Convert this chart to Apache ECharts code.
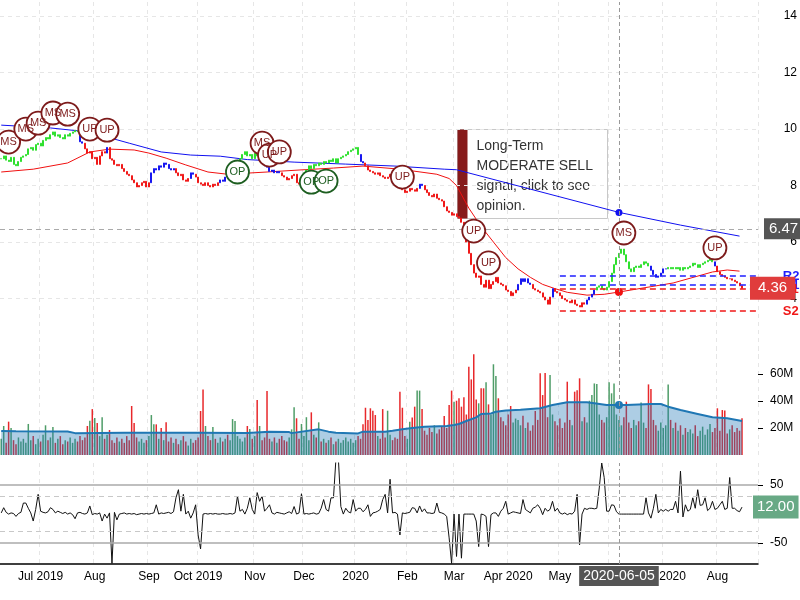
<!DOCTYPE html>
<html><head><meta charset="utf-8">
<script src="https://cdn.jsdelivr.net/npm/echarts@6/dist/echarts.min.js"></script>
<style>html,body{margin:0;padding:0;background:#fff}#c{width:800px;height:600px}</style>
</head><body><div id="c"></div>
<script>
// ---------- categories (trading days) ----------
const HOLIDAYS = ['2019-07-04','2019-09-02','2019-11-28','2019-12-25','2020-01-01','2020-01-20','2020-02-17','2020-04-10','2020-05-25','2020-07-03'];
const FIRST_DAY = '2019-06-07';
const LAST_AXIS_DAY = '2020-08-25';
const tradeDates = (function(){
  const hol = new Set(HOLIDAYS), out = [];
  let t = Date.parse(FIRST_DAY + 'T00:00:00Z'); const end = Date.parse(LAST_AXIS_DAY + 'T00:00:00Z');
  while (t <= end) { const d = new Date(t), w = d.getUTCDay(), s = d.toISOString().slice(0,10);
    if (w !== 0 && w !== 6 && !hol.has(s)) out.push(s); t += 86400000; }
  return out;
})();

// ---------- x tick labels ----------
const monthTicks = [['2019-07-01','Jul 2019'],['2019-08-01','Aug'],['2019-09-03','Sep'],['2019-10-01','Oct 2019'],['2019-11-01','Nov'],['2019-12-02','Dec'],['2020-01-02','2020'],['2020-02-03','Feb'],['2020-03-02','Mar'],['2020-04-01','Apr 2020'],['2020-05-01','May'],['2020-06-01','Jun'],['2020-07-01','Jul 2020'],['2020-08-03','Aug']];
const cursorDate = '2020-06-05';

// ---------- price (daily close) ----------
const closes = [
8.95,9.05,8.9,8.85,9.0,8.75,8.7,8.85,9.0,9.05,
9.1,9.3,9.35,9.25,9.45,9.5,9.4,9.6,9.7,9.65,
9.8,9.9,9.75,9.8,9.7,9.65,9.8,9.75,9.85,9.9,
9.95,9.9,9.55,9.5,9.3,9.15,9.2,8.95,9.0,8.75,
9.05,9.2,9.15,9.35,8.95,8.9,8.75,8.7,8.75,8.6,
8.5,8.4,8.35,8.2,8.1,7.95,8.0,8.1,8.15,7.95,
8.1,8.45,8.6,8.55,8.7,8.65,8.8,8.75,8.6,8.55,
8.6,8.45,8.35,8.4,8.2,8.15,8.25,8.45,8.4,8.3,
8.1,8.05,8.0,8.1,8.0,7.95,8.05,8.0,8.1,8.2,
8.15,8.3,8.25,8.35,8.4,8.55,8.75,8.95,9.1,9.2,
9.05,9.1,8.95,9.15,9.05,9.1,8.95,8.7,8.65,8.5,
8.55,8.45,8.5,8.45,8.35,8.3,8.2,8.25,8.35,8.4,
8.1,8.05,8.2,8.45,8.55,8.7,8.6,8.75,8.7,8.8,
8.75,8.85,8.8,8.9,8.85,8.95,8.8,8.95,9.0,9.05,
9.1,9.2,9.25,9.3,9.35,9.1,8.85,8.8,8.7,8.55,
8.5,8.45,8.4,8.45,8.35,8.3,8.25,8.3,8.4,8.3,
8.15,8.0,7.95,7.85,7.75,7.8,7.9,7.85,7.8,7.9,
8.05,8.0,7.85,7.75,7.65,7.6,7.7,7.55,7.5,7.45,
7.25,7.1,7.05,6.95,7.0,6.9,6.85,6.7,6.35,6.0,
5.6,5.2,4.9,4.75,4.8,4.5,4.4,4.65,4.35,4.5,
4.6,4.75,4.55,4.5,4.45,4.3,4.25,4.1,4.2,4.3,
4.5,4.7,4.6,4.7,4.55,4.5,4.35,4.3,4.25,4.2,
4.05,3.95,3.8,4.05,4.35,4.25,4.2,4.1,4.0,3.95,
3.9,3.85,3.95,3.8,3.75,3.7,3.85,3.8,3.95,4.05,
4.15,4.3,4.4,4.45,4.35,4.3,4.4,4.6,4.9,5.2,
5.45,5.6,5.75,5.55,5.3,5.05,4.95,5.1,5.15,5.1,
5.2,5.3,5.25,5.15,5.0,4.85,4.75,4.8,4.9,5.05,
5.05,5.1,5.05,5.1,5.05,5.1,5.0,5.1,5.05,5.1,
5.15,5.25,5.2,5.1,5.2,5.25,5.3,5.35,5.4,5.3,
5.15,4.95,4.85,4.8,4.75,4.7,4.7,4.65,4.6,4.55,
4.45,4.36];
// trend colour of each bar, as runs: G = up-trend, R = down-trend, B = neutral
const trendRuns = [['G',32],['B',2],['R',9],['B',1],['R',17],['B',10],['R',6],['B',2],['R',10],['B',4],['G',14],['B',7],['R',9],['G',23],['B',2],['R',22],['B',2],['R',38],['B',6],['R',8],['B',1],['R',13],['B',4],['G',22],['B',7],['G',19],['B',1],['R',11]];

// moving averages, as [trading-day index, value]
const maLong = [[0,10.14],[20,10.04],[32,9.93],[40,9.79],[52,9.5],[65,9.19],[77,9.08],[89,9.04],[100,8.92],[119,8.83],[140,8.76],[160,8.69],[180,8.58],[185,8.56],[251,7.05],[276,6.6],[300,6.21]];
const maShort = [[0,8.48],[13,8.58],[27,8.8],[36,9.19],[44,9.29],[54,9.26],[60,9.15],[67,8.97],[75,8.73],[84,8.48],[92,8.4],[108,8.48],[121,8.55],[135,8.62],[147,8.69],[162,8.58],[177,8.4],[182,8.25],[185,8.0],[190,7.2],[195,6.55],[200,6.0],[205,5.45],[210,5.05],[215,4.75],[220,4.5],[225,4.35],[230,4.22],[238,4.12],[245,4.15],[251,4.23],[273,4.55],[289,4.94],[295,5.01],[300,4.97]];

// signals: trading-day index, price level, label
const sigDay   = [3,10,15,21,27,36,43,96,106,109,113,126,132,163,192,198,253,290];
const sigPrice = [9.54,10.0,10.21,10.57,10.53,10.0,9.96,8.48,9.5,9.08,9.19,8.12,8.16,8.3,6.39,5.26,6.32,5.79];
const sigText  = ['MS','MS','MS','MS','MS','UP','UP','OP','MS','UP','UP','OP','OP','UP','UP','UP','MS','UP'];

// support / resistance levels
const levelNames  = ['R2','R1','S1','S2'];
const levelValues = [4.80,4.48,4.33,3.56];
const levelFrom = 227;
const cursorPrice = 6.47;
const lastPrice = 4.36;

// ---------- volume (millions) ----------
const volumes = [
12,21.5,9,24.7,20,11,8,13,10,12,
9,23,11,14,8,12,10,15,22,11,
13,20.7,9,12,14,8,11,10,13,9,
12,10,14,11,13,21.5,25.4,34,27.4,23.7,
14,28,12,15,18.5,11,9,13,10,12,
9,14,11,36.3,23.7,13,10,12,9,11,
14,29.6,22.7,22.7,12,20,11,24.2,10,13,
9,12,8,11,14,10,7,12,9,11,
13,32.6,48.6,21.5,14,11,20.7,12,9,13,
10,12,15,11,26.6,25.2,14,12,10,13,
21.5,19.3,12,14,40.7,21.5,11,13,47.4,12,
10,13,9,12,14,11,10,13,19,35.3,
27.2,12,23,14,28,11,31.6,15,13,24.2,
10,12,9,11,13,8,10,12,9,11,
13,10,12,9,11,14,12,22.7,35,26,
34.6,32.8,29.6,14,12,34,13,32.8,15,11,
13,12,46.9,35,14,12,24.7,27.7,35.8,47.7,
47.7,34,18,15,20,17,22,16,19,21,
28.9,20,37,47.7,39.5,40.2,42,35.8,42.7,30,
65.4,56,74.6,41.2,38.3,49.4,49.4,53.8,37.5,30,
67.2,58.5,42,28,25,22,30,36.3,24,27,
26,22,29,20,24,18,22,32.6,26,60.5,
44.4,60.7,28,59.3,30,25,22,27,20,24,
54.3,26,22,46.9,48,56.8,25,28,24,40.2,
44.4,53,52.6,30,26,24,28,53.8,45.7,53,
30,26,22,28,39.5,24,20,26,22,25,
38.8,24,20,52.3,48.9,26,22,18,24,20,
22,52.3,26,20,24,18,22,15,20,17,
19,16,22,14,18,21,15,19,23,17,
20,34.6,18,33.3,33,16,19,22,17,20,
18,27.2];
const volMA = [[0,17.8],[6,17.6],[27,17.4],[30,16.2],[50,16.4],[80,16.4],[100,16.3],[109,17.2],[117,17.0],[118,16.2],[129,19.0],[133,17.3],[136,16.5],[145,16.0],[147,17.3],[156,17.3],[159,18.0],[163,19.0],[167,20.0],[172,21.0],[181,21.5],[184,22.2],[186,23.0],[189,25.2],[193,27.9],[195,30.4],[199,30.8],[201,32.0],[205,33.0],[211,33.5],[219,34.6],[224,37.0],[230,39.0],[238,39.0],[241,38.3],[246,37.0],[251,37.0],[254,37.0],[264,37.8],[268,37.8],[271,35.8],[276,33.3],[283,30.4],[289,27.9],[295,27.2],[301,25.2]];

// ---------- oscillator ----------
const osc = [
2,11,3,0,2,1,-4,1,3,19,
19,10,2,-12,8,34,5,3,2,4,
11,8,2,5,3,1,3,0,2,-1,
-8,2,3,1,0,2,14,-1,1,0,
2,-12,0,-7,2,-85,3,-10,0,1,
2,0,1,0,1,-1,0,1,0,1,
0,1,2,16,0,2,1,2,3,1,
4,28,42,5,34,0,5,-7,2,16,
-36,-60,0,1,0,1,0,1,0,0,
1,0,0,1,0,2,31,5,8,0,
10,28,8,0,37,22,31,5,10,16,
2,0,3,2,1,0,2,4,1,13,
0,2,35,0,1,0,1,2,0,1,
10,25,8,5,28,28,95,95,13,0,
10,4,2,25,5,10,10,4,8,16,
-4,2,3,5,8,25,34,2,60,2,
3,0,-36,2,1,2,3,11,10,2,
14,4,9,2,2,1,2,19,3,2,
0,-4,-41,-85,0,-73,0,-76,0,0,
0,0,0,-12,-56,0,-1,-4,-56,-1,
2,2,-4,5,10,22,0,2,4,3,
2,1,25,8,5,2,10,12,16,10,
-1,10,5,8,22,5,10,2,0,2,
-1,1,0,5,34,-53,0,10,8,10,
10,9,10,45,88,63,5,5,16,15,
4,0,0,0,0,0,0,0,0,0,
0,0,28,2,-7,10,34,2,8,5,
8,5,8,8,22,2,74,-5,16,5,
8,28,10,42,15,16,28,6,10,22,
8,10,16,22,8,10,63,10,10,6,
4,12];
const oscBands = [50,-50];
const oscInner = [30,-30];

// ---------- build ----------
const COL = {G:'#2fe02f', R:'#f01818', B:'#1717f0'};
const trend = []; trendRuns.forEach(([c,n]) => { for (let k=0;k<n;k++) trend.push(c); });
const tickMap = Object.fromEntries(monthTicks);
const cursorIdx = tradeDates.indexOf(cursorDate);
const FONT = '"Liberation Sans", Arial, sans-serif';
const NOLINE = {color:'rgba(0,0,0,0)', width:0};

const priceData = closes.map((c,i) => {
  const o = i ? closes[i-1] : c, col = COL[trend[i]];
  return {value:[o,c,Math.min(o,c),Math.max(o,c)], itemStyle:{color:col,color0:col,borderColor:col,borderColor0:col,borderWidth:1}};
});
const volData = volumes.map((v,i) => ({value:v, itemStyle:{color: (i && closes[i] < closes[i-1]) ? '#e8282b' : '#4f9d68'}}));
const pairs = (arr, dotSize) => arr.map(([i,v]) => i === cursorIdx ? {value:[tradeDates[i],v], symbolSize:dotSize} : {value:[tradeDates[i],v], symbolSize:0});

function xAx(gi, show) {
  return {type:'category', gridIndex:gi, data:tradeDates, boundaryGap:true,
    axisLine:{show:show, onZero:false, lineStyle:{color:'#000', width:1.5}}, axisTick:{show:false},
    axisLabel:{show:show, interval:(i,v)=>tickMap[v]!==undefined, formatter:v=>tickMap[v]||'', color:'#000', fontSize:12, margin:7, fontFamily:FONT},
    splitLine:{show:true, interval:(i,v)=>tickMap[v]!==undefined, lineStyle:{color:'#e6e6e6', type:[4,4]}}};
}
const vLine = {xAxis: cursorDate, lineStyle:{color:'#999', type:[4,3], width:1}, label:{show:false}};

const option = {
  animation:false,
  textStyle:{fontFamily:FONT},
  grid:[
    {left:0, width:758, top:2, height:353},
    {left:0, width:758, top:347, height:108},
    {left:0, width:758, top:463, height:101}
  ],
  xAxis:[xAx(0,false), xAx(1,false), xAx(2,true)],
  yAxis:[
    {type:'value', gridIndex:0, position:'right', min:2, max:14.5, interval:2,
     axisLine:{show:false}, axisTick:{show:false},
     axisLabel:{showMinLabel:false, showMaxLabel:false, align:'right', margin:39, color:'#000', fontSize:12},
     splitLine:{show:true, lineStyle:{color:['rgba(0,0,0,0)','#e6e6e6','#e6e6e6','#e6e6e6','#e6e6e6','#e6e6e6','#e6e6e6'], type:[4,4]}}},
    {type:'value', gridIndex:1, position:'right', min:0, max:80,
     axisLine:{show:false}, axisTick:{show:true, length:5, customValues:[20,40,60], lineStyle:{color:'#000'}},
     axisLabel:{customValues:[20,40,60], formatter:v=>v+'M', margin:12, color:'#000', fontSize:12},
     splitLine:{show:false}},
    {type:'value', gridIndex:2, position:'right', min:-86, max:88,
     axisLine:{show:false}, axisTick:{show:true, length:5, customValues:oscBands, lineStyle:{color:'#000'}},
     axisLabel:{customValues:oscBands, margin:12, color:'#000', fontSize:12},
     splitLine:{show:false}}
  ],
  series:[
    {type:'line', name:'maLong', xAxisIndex:0, yAxisIndex:0, data:pairs(maLong,7), symbol:'circle', showAllSymbol:true,
     lineStyle:{color:'#1010f0', width:1}, itemStyle:{color:'#1010f0'}, z:2},
    {type:'line', name:'maShort', xAxisIndex:0, yAxisIndex:0, data:pairs(maShort,8), symbol:'circle', showAllSymbol:true,
     lineStyle:{color:'#f01010', width:1}, itemStyle:{color:'#f01010'}, z:2},
    {type:'candlestick', name:'price', xAxisIndex:0, yAxisIndex:0, data:priceData, barWidth:1.5, z:3,
     markLine:{silent:true, symbol:['none','none'], animation:false,
       data:[
         ...levelNames.map((n,k)=>[
           {coord:[tradeDates[levelFrom], levelValues[k]], lineStyle:{color: n[0]==='R' ? '#1f1fff' : '#f01818', type:[6,4], width:1.5},
            label:{show:true, position:'end', formatter:n, color: n[0]==='R' ? '#1f1fff' : '#f01818', fontSize:13, fontWeight:'bold', distance:26}},
           {coord:[tradeDates[tradeDates.length-1], levelValues[k]]}
         ]),
         {yAxis:cursorPrice, lineStyle:{color:'#aaa', type:[5,4], width:1},
          label:{show:true, position:'end', formatter:cursorPrice.toFixed(2), backgroundColor:'#555', color:'#fff', fontSize:15, padding:[3,5], distance:6}},
         vLine,
         {yAxis:lastPrice, lineStyle:NOLINE,
          label:{show:true, position:'end', formatter:lastPrice.toFixed(2), backgroundColor:'#e03c3c', color:'#fff', fontSize:15, padding:[4,8], distance:-8}}
       ]},
     markPoint:{symbol:'circle', symbolSize:23, animation:false,
       label:{show:true, position:'inside', fontSize:11, formatter:p=>p.data.value},
       data: sigDay.map((d,k)=>{const c = sigText[k]==='OP' ? '#1d5e20' : '#7d1b1b';
         return {coord:[tradeDates[d], sigPrice[k]], value:sigText[k], itemStyle:{color:'#fff', borderColor:c, borderWidth:1.8}, label:{color:c}};})}
    },
    {type:'bar', name:'volume', xAxisIndex:1, yAxisIndex:1, data:volData, barWidth:1.5, z:2,
     markLine:{silent:true, symbol:['none','none'], animation:false, data:[vLine]}},
    {type:'line', name:'volMA', xAxisIndex:1, yAxisIndex:1, data:pairs(volMA,8), symbol:'circle', showAllSymbol:true,
     lineStyle:{color:'#1f77b4', width:2}, itemStyle:{color:'#1f77b4'}, areaStyle:{color:'rgba(31,119,180,0.52)'}, z:3},
    {type:'line', name:'osc', xAxisIndex:2, yAxisIndex:2, data:osc, symbol:'none', clip:true,
     lineStyle:{color:'#111', width:1}, z:3,
     markLine:{silent:true, symbol:['none','none'], animation:false,
       data:[
         ...oscBands.map(v=>({yAxis:v, lineStyle:{color:'#aaa', type:'solid', width:1.5}, label:{show:false}})),
         ...oscInner.map(v=>({yAxis:v, lineStyle:{color:'#c8c8c8', type:[5,4], width:1}, label:{show:false}})),
         {xAxis:cursorDate, lineStyle:{color:'#999', type:[4,3], width:1},
          label:{show:true, position:'start', formatter:cursorDate, backgroundColor:'#555', color:'#fff', fontSize:14, padding:[3,4], distance:2}},
         {yAxis:osc[osc.length-1], lineStyle:NOLINE,
          label:{show:true, position:'end', formatter:osc[osc.length-1].toFixed(2), backgroundColor:'#68a985', color:'#fff', fontSize:15, padding:[4,4], distance:-5}}
       ]}}
  ],
  graphic:[{type:'group', left:457, top:129, z:100, children:[
    {type:'rect', shape:{x:0,y:0,width:150,height:89}, style:{fill:'rgba(255,255,255,0.88)', stroke:'#c8c8c8', lineWidth:1}},
    {type:'rect', shape:{x:0,y:0,width:10,height:89}, style:{fill:'#861a1a'}},
    {type:'text', x:19, y:7, style:{text:'Long-Term\nMODERATE SELL\nsignal, click to see\nopinion.', fill:'#333', fontSize:14, fontFamily:FONT, lineHeight:20}}
  ]}]
};
echarts.init(document.getElementById('c')).setOption(option);
</script></body></html>
